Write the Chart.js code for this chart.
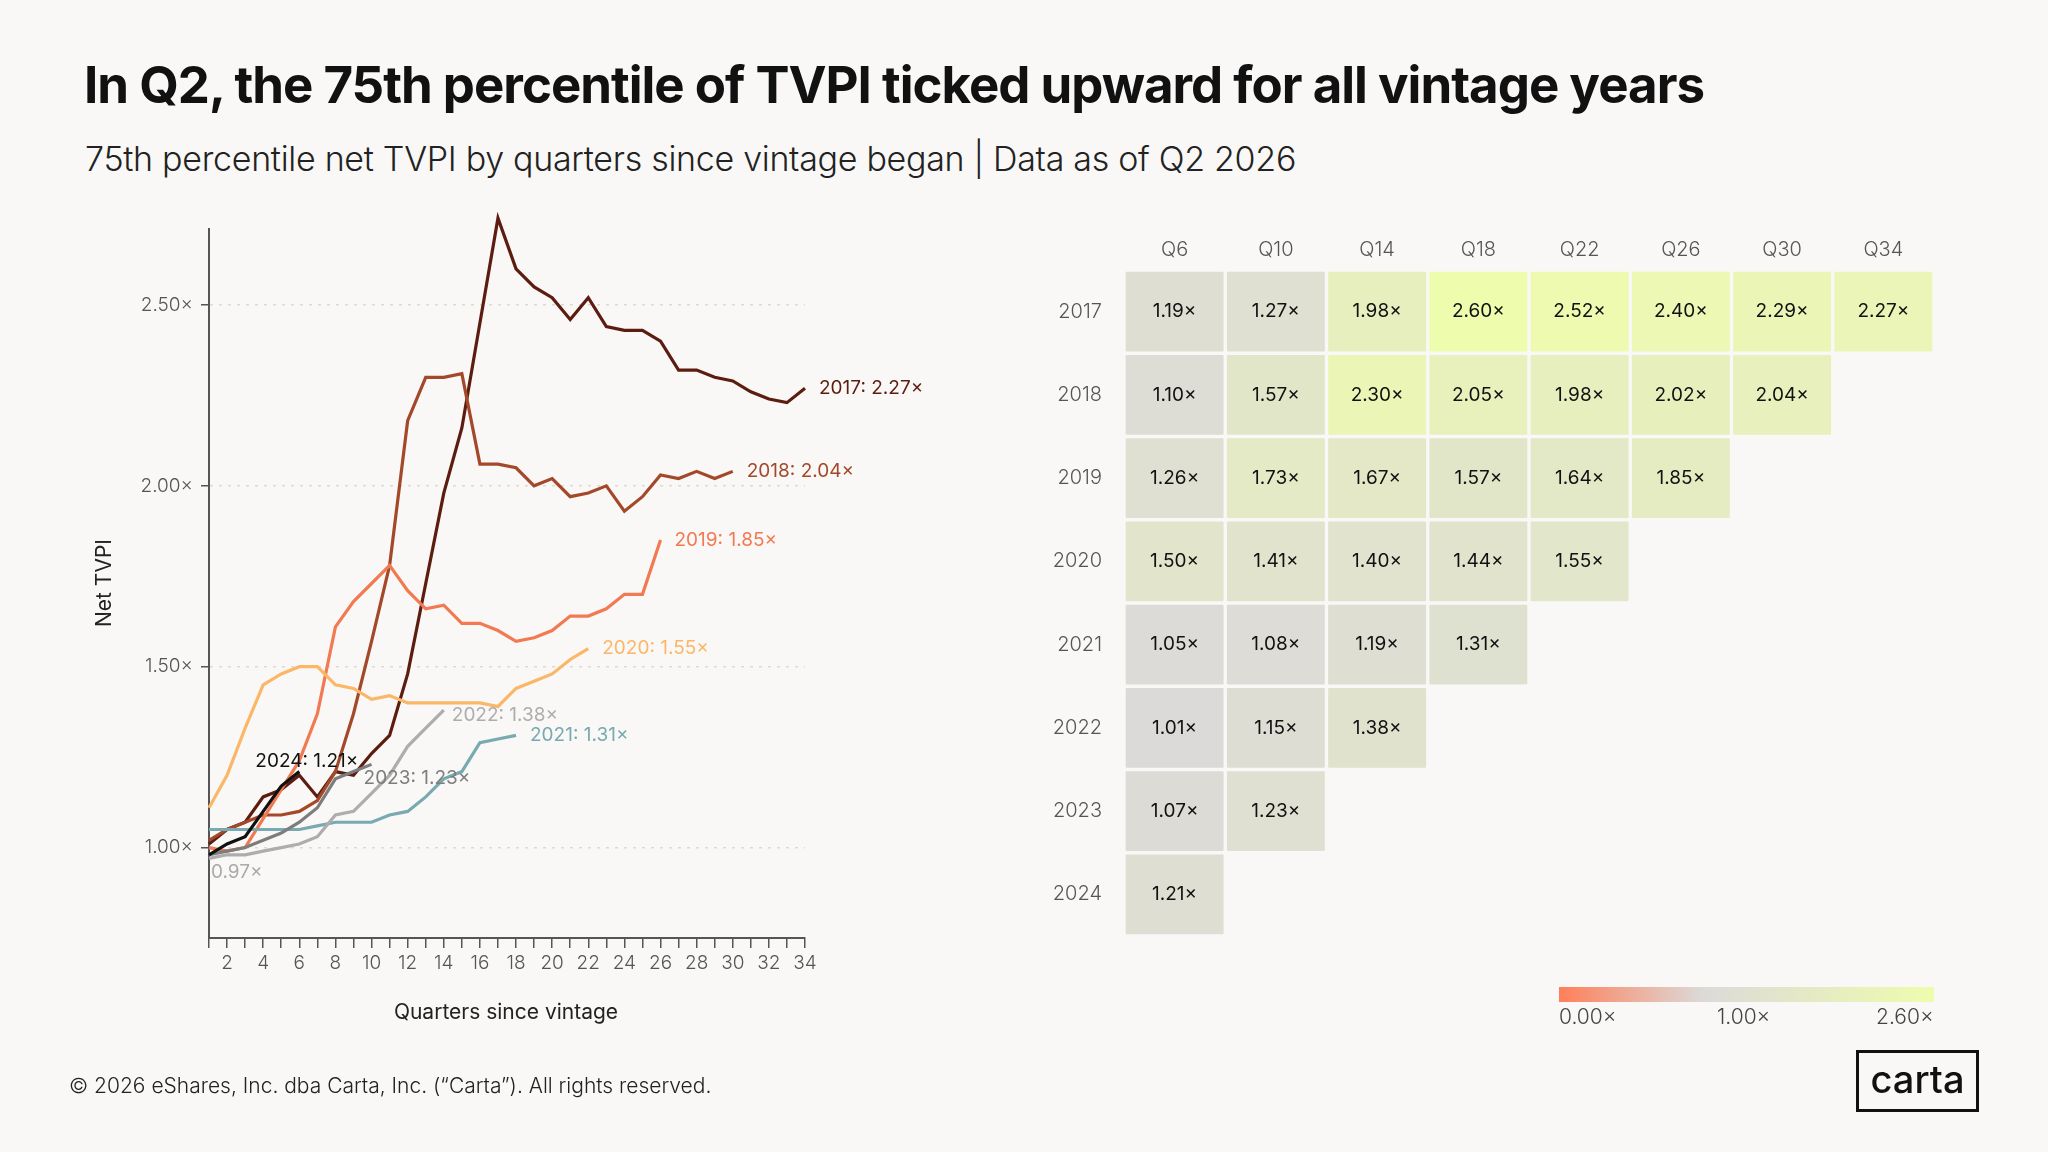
<!DOCTYPE html>
<html><head><meta charset="utf-8">
<script src="https://cdn.jsdelivr.net/npm/chart.js@4"></script>
<style>
html,body{margin:0;padding:0;background:#f9f8f6;width:2048px;height:1152px;overflow:hidden;font-family:Inter,"Open Sans",sans-serif;}
#title{position:absolute;left:84px;top:54px;font-size:51px;font-weight:700;color:#111;letter-spacing:-1px;}
#sub{position:absolute;left:85px;top:138px;font-size:34px;font-weight:300;color:#222;letter-spacing:-0.3px;}
#lc{position:absolute;left:0;top:0;}
#hm{position:absolute;left:1000px;top:0;}
#foot{position:absolute;left:69px;top:1073px;font-size:21px;color:#222;font-weight:300;}
#grad{position:absolute;left:1559px;top:987px;width:375px;height:15px;background:linear-gradient(to right,#ff7f5a 0%,#dcdad8 38.5%,#eefcae 100%);}
.gl{position:absolute;top:1004px;font-size:21px;color:#444;font-weight:300;}
#logo{position:absolute;left:1856px;top:1050px;width:117px;height:56px;border:3px solid #111;font-size:38px;font-weight:500;color:#111;text-align:center;line-height:52px;}
</style></head><body>
<div id="title">In Q2, the 75th percentile of TVPI ticked upward for all vintage years</div>
<div id="sub">75th percentile net TVPI by quarters since vintage began | Data as of Q2 2026</div>
<canvas id="lc" width="1000" height="1152"></canvas>
<canvas id="hm" width="1048" height="1152"></canvas>
<div id="grad"></div>
<div class="gl" style="left:1559px">0.00×</div>
<div class="gl" style="left:1717px">1.00×</div>
<div class="gl" style="left:1876px">2.60×</div>
<div id="foot">© 2026 eShares, Inc. dba Carta, Inc. (“Carta”). All rights reserved.</div>
<div id="logo">carta</div>
<script>
// ---- data ----
const vintages = ["2017","2018","2019","2020","2021","2022","2023","2024"];
const v2017 = [1.01,1.05,1.07,1.14,1.16,1.20,1.14,1.21,1.20,1.26,1.31,1.48,1.73,1.98,2.16,2.45,2.74,2.60,2.55,2.52,2.46,2.52,2.44,2.43,2.43,2.40,2.32,2.32,2.30,2.29,2.26,2.24,2.23,2.27];
const v2018 = [1.02,1.05,1.07,1.09,1.09,1.10,1.13,1.21,1.37,1.57,1.78,2.18,2.30,2.30,2.31,2.06,2.06,2.05,2.00,2.02,1.97,1.98,2.00,1.93,1.97,2.03,2.02,2.04,2.02,2.04];
const v2019 = [1.00,0.99,1.00,1.08,1.16,1.24,1.37,1.61,1.68,1.73,1.78,1.71,1.66,1.67,1.62,1.62,1.60,1.57,1.58,1.60,1.64,1.64,1.66,1.70,1.70,1.85];
const v2020 = [1.11,1.20,1.33,1.45,1.48,1.50,1.50,1.45,1.44,1.41,1.42,1.40,1.40,1.40,1.40,1.40,1.39,1.44,1.46,1.48,1.52,1.55];
const v2021 = [1.05,1.05,1.05,1.05,1.05,1.05,1.06,1.07,1.07,1.07,1.09,1.10,1.14,1.19,1.21,1.29,1.30,1.31];
const v2022 = [0.97,0.98,0.98,0.99,1.00,1.01,1.03,1.09,1.10,1.15,1.20,1.28,1.33,1.38];
const v2023 = [0.98,0.99,1.00,1.02,1.04,1.07,1.11,1.19,1.21,1.23];
const v2024 = [0.98,1.01,1.03,1.10,1.17,1.21];
const lineSeries = [v2017,v2018,v2019,v2020,v2021,v2022,v2023,v2024];
const yTicks = [1.0,1.5,2.0,2.5];

const hmCols = ["Q6","Q10","Q14","Q18","Q22","Q26","Q30","Q34"];
const h2017 = [1.19,1.27,1.98,2.60,2.52,2.40,2.29,2.27];
const h2018 = [1.10,1.57,2.30,2.05,1.98,2.02,2.04];
const h2019 = [1.26,1.73,1.67,1.57,1.64,1.85];
const h2020 = [1.50,1.41,1.40,1.44,1.55];
const h2021 = [1.05,1.08,1.19,1.31];
const h2022 = [1.01,1.15,1.38];
const h2023 = [1.07,1.23];
const h2024 = [1.21];
const hmRows = [h2017,h2018,h2019,h2020,h2021,h2022,h2023,h2024];

// ---- styles ----
const colors = ["#5c1d10","#a4482a","#f27a52","#fbb768","#78aab1","#adadad","#7d7d7d","#111111"];
const labelOff = [[14,0],[14,0],[14,0],[14,0],[14,0],[8,5],[-8,14],[-44,-10]];
const FONT = "Inter, 'Open Sans', sans-serif";
const fmt = v => v.toFixed(2) + "×";

const endLabels = {
  id:'endLabels',
  afterDatasetsDraw(chart){
    const ctx = chart.ctx;
    ctx.save();
    ctx.font = "19px " + FONT;
    ctx.textBaseline = "middle"; ctx.textAlign = "left";
    chart.data.datasets.forEach((ds,i)=>{
      const meta = chart.getDatasetMeta(i);
      const p = meta.data[meta.data.length-1];
      const v = ds.data[ds.data.length-1].y;
      ctx.fillStyle = colors[i];
      ctx.fillText(vintages[i] + ": " + fmt(v), p.x + labelOff[i][0], p.y + labelOff[i][1]);
    });
    const m = chart.getDatasetMeta(5).data[0];
    ctx.fillStyle = "#aaa";
    ctx.fillText(fmt(v2022[0]), m.x + 2, m.y + 14);
    ctx.fillStyle = "#222"; ctx.font = "21px " + FONT;
    ctx.textAlign = "center";
    ctx.fillText("Quarters since vintage", 506, 1013);
    ctx.translate(105, 583); ctx.rotate(-Math.PI/2);
    ctx.fillText("Net TVPI", 0, 0);
    ctx.restore();
  }
};

new Chart(document.getElementById('lc'), {
  type:'line',
  data:{datasets: lineSeries.map((s,i)=>({
    label: vintages[i],
    data: s.map((v,q)=>({x:q+1,y:v})),
    borderColor: colors[i], borderWidth: 3.2, pointRadius:0, tension:0,
    clip: false, order: 8 - i
  }))},
  options:{
    responsive:false, animation:false,
    layout:{padding:{left:0,top:229,right:195,bottom:0}},
    plugins:{legend:{display:false},tooltip:{enabled:false}},
    scales:{
      x:{type:'linear',min:1,max:34,
        afterFit(s){s.height=214;},
        afterBuildTicks(s){s.ticks=[];for(let q=1;q<=34;q++)s.ticks.push({value:q});},
        ticks:{autoSkip:false,maxRotation:0,color:'#555',font:{family:FONT,size:19,weight:300},padding:4,
          callback:(v)=> v%2===0 ? String(v) : ''},
        grid:{drawOnChartArea:false,tickLength:10,color:'#555',lineWidth:1.5},
        border:{color:'#555',width:2}},
      y:{type:'linear',min:0.75,max:2.71,
        afterFit(s){s.width=209;},
        afterBuildTicks(s){s.ticks=yTicks.map(v=>({value:v}));},
        ticks:{color:'#555',font:{family:FONT,size:19,weight:300},padding:8,callback:v=>fmt(v)},
        grid:{color:'#dddad6',lineWidth:1.5,tickLength:8,tickColor:'#555'},
        border:{color:'#555',width:2,dash:[3,6]}}
    }
  },
  plugins:[endLabels]
});

// ---- heatmap ----
const stops = [[0,[255,127,90]],[1,[220,218,216]],[2.6,[238,252,174]]];
function cellColor(v){
  v = Math.max(0,Math.min(2.6,v));
  for(let i=0;i<stops.length-1;i++){
    const [a,ca]=stops[i],[b,cb]=stops[i+1];
    if(v<=b){const t=(v-a)/(b-a);return 'rgb('+ca.map((c,k)=>Math.round(c+(cb[k]-c)*t)).join(',')+')';}
  }
}
const cellText = {
  id:'cellText',
  afterDatasetsDraw(chart){
    const ctx=chart.ctx; ctx.save();
    ctx.font="19px "+FONT; ctx.fillStyle="#111"; ctx.textAlign="center"; ctx.textBaseline="middle";
    chart.data.datasets.forEach((ds,r)=>{
      chart.getDatasetMeta(r).data.forEach((el,c)=>{
        if(hmRows[r][c]==null) return;
        const p=el.getProps(['x','y','base'],true);
        ctx.fillText(fmt(hmRows[r][c]), p.x, (p.y+p.base)/2);
      });
    });
    ctx.restore();
  }
};
new Chart(document.getElementById('hm'), {
  type:'bar',
  data:{labels:hmCols, datasets: hmRows.map((row,r)=>({
    data: row.map(v=>[r,r+1]),
    backgroundColor: row.map(v=>cellColor(v)),
    borderColor:'#f9f8f6', borderWidth:2, borderSkipped:false, borderRadius:3,
    barPercentage:1, categoryPercentage:1, grouped:false
  }))},
  options:{
    responsive:false, animation:false,
    layout:{padding:{left:0,top:215,right:114,bottom:216}},
    plugins:{legend:{display:false},tooltip:{enabled:false}},
    scales:{
      x:{position:'top',afterFit(s){s.height=55;},
        ticks:{color:'#555',font:{family:FONT,size:20,weight:300},padding:0},
        grid:{display:false},border:{display:false}},
      y:{type:'linear',min:0,max:8,reverse:true,
        afterFit(s){s.width=124;},
        afterBuildTicks(s){s.ticks=vintages.map((_,i)=>({value:i+0.5}));},
        ticks:{color:'#555',font:{family:FONT,size:20,weight:300},padding:14,callback:(v,i)=>vintages[i]},
        grid:{display:false},border:{display:false}}
    }
  },
  plugins:[cellText]
});
</script>
</body></html>
